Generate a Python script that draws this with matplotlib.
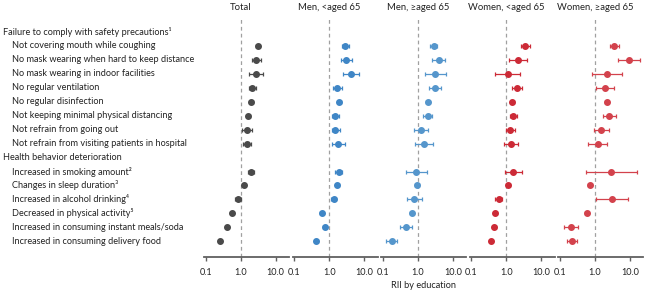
import numpy as np
import matplotlib
matplotlib.use('Agg')
import matplotlib.pyplot as plt
import matplotlib.transforms as mtransforms

plt.rcParams['font.family'] = ['Lato', 'DejaVu Sans']

# row labels (headers have no data)
rows = ['Failure to comply with safety precautions¹',
        'Not covering mouth while coughing',
        'No mask wearing when hard to keep distance',
        'No mask wearing in indoor facilities',
        'No regular ventilation',
        'No regular disinfection',
        'Not keeping minimal physical distancing',
        'Not refrain from going out',
        'Not refrain from visiting patients in hospital',
        'Health behavior deterioration',
        'Increased in smoking amount²',
        'Changes in sleep duration³',
        'Increased in alcohol drinking⁴',
        'Decreased in physical activity⁵',
        'Increased in consuming instant meals/soda',
        'Increased in consuming delivery food']
headers = [0, 9]
data_rows = [1, 2, 3, 4, 5, 6, 7, 8, 10, 11, 12, 13, 14, 15]

panels = ['Total', 'Men, <aged 65', 'Men, \u2265aged 65', 'Women, <aged 65', 'Women, \u2265aged 65']
colors = ['#4a4a4a', '#3f86c6', '#5596cc', '#cc2a36', '#d3424c']

# RII estimates and 95% CI, one list per panel (order of data_rows)
total_rii = [3.06, 2.79, 2.79, 2.15, 2.01, 1.65, 1.51, 1.48, 1.93, 1.22, 0.84, 0.56, 0.41, 0.26]
total_lo = [2.80, 2.06, 1.76, 1.76, 1.85, 1.52, 1.11, 1.19, 1.60, 1.14, 0.69, 0.52, 0.38, 0.24]
total_hi = [3.35, 3.80, 4.40, 2.68, 2.18, 1.80, 2.06, 1.93, 2.35, 1.31, 1.00, 0.60, 0.44, 0.28]

men_young_rii = [2.87, 3.06, 4.07, 1.69, 1.93, 1.48, 1.48, 1.77, 1.85, 1.69, 1.33, 0.60, 0.74, 0.43]
men_young_lo = [2.30, 2.10, 2.40, 1.27, 1.75, 1.22, 1.19, 1.19, 1.48, 1.55, 1.12, 0.55, 0.68, 0.40]
men_young_hi = [3.56, 4.50, 7.20, 2.30, 2.12, 1.85, 1.97, 2.74, 2.30, 1.85, 1.58, 0.66, 0.80, 0.47]

men_old_rii = [2.87, 3.89, 3.12, 3.12, 1.89, 1.89, 1.19, 1.51, 0.91, 0.94, 0.77, 0.66, 0.45, 0.18]
men_old_lo = [2.29, 2.56, 1.55, 2.06, 1.70, 1.39, 0.78, 0.84, 0.45, 0.84, 0.48, 0.60, 0.30, 0.12]
men_old_hi = [3.63, 6.15, 6.40, 4.60, 2.10, 2.60, 1.93, 2.74, 1.81, 1.05, 1.33, 0.72, 0.69, 0.26]

women_young_rii = [3.49, 2.20, 1.10, 1.98, 1.48, 1.58, 1.30, 1.36, 1.58, 1.12, 0.61, 0.48, 0.45, 0.36]
women_young_lo = [2.63, 1.22, 0.48, 1.43, 1.35, 1.27, 0.96, 0.86, 0.88, 1.02, 0.48, 0.44, 0.41, 0.33]
women_young_hi = [4.66, 3.98, 2.41, 2.81, 1.62, 2.06, 1.81, 2.16, 2.81, 1.23, 0.75, 0.52, 0.49, 0.39]

women_old_rii = [3.56, 9.36, 2.20, 1.97, 2.15, 2.57, 1.51, 1.19, 2.87, 0.72, 2.99, 0.58, 0.21, 0.22]
women_old_lo = [2.68, 4.54, 0.84, 1.09, 1.90, 1.73, 0.92, 0.64, 0.55, 0.64, 1.05, 0.53, 0.13, 0.16]
women_old_hi = [4.95, 19.7, 6.03, 3.56, 2.42, 3.90, 2.46, 2.25, 15.5, 0.80, 8.95, 0.64, 0.33, 0.31]

rii = [total_rii, men_young_rii, men_old_rii, women_young_rii, women_old_rii]
lo = [total_lo, men_young_lo, men_old_lo, women_young_lo, women_old_lo]
hi = [total_hi, men_young_hi, men_old_hi, women_young_hi, women_old_hi]

fig = plt.figure(figsize=(6.48, 2.95), dpi=100)

left, bottom, width, height = 0.315, 0.130, 0.131, 0.809
step = 0.1367
axes = []
for k in range(5):
    ax = fig.add_axes([left + k * step, bottom, width, height])
    axes.append(ax)
    v = np.array(rii[k])
    l = np.array(lo[k])
    h = np.array(hi[k])
    ax.axvline(1.0, color='#a0a0a0', linestyle=(0, (3, 2.5)), linewidth=0.9, zorder=1)
    ax.errorbar(v, data_rows, xerr=[v - l, h - v], fmt='o', color=colors[k],
                markersize=4, elinewidth=0.9, capsize=1.6, capthick=0.9, zorder=3)
    ax.set_xscale('log')
    ax.set_xlim(0.09, 24)
    ax.set_ylim(16.1, -1)
    ax.set_xticks([0.1, 1, 10])
    ax.set_xticklabels(['0.1', '1.0', '10.0'])
    ax.xaxis.set_minor_locator(matplotlib.ticker.NullLocator())
    ax.set_yticks([])
    for s in ['left', 'right', 'top']:
        ax.spines[s].set_visible(False)
    ax.spines['bottom'].set_color('#606060')
    ax.spines['bottom'].set_linewidth(1.3)
    ax.tick_params(axis='x', direction='out', length=3, width=1, color='#606060',
                   labelsize=6.6, pad=5, labelcolor='#222222')
    ax.patch.set_alpha(0)
    ax.text(1.0, 0.99, panels[k], transform=mtransforms.blended_transform_factory(ax.transData, fig.transFigure),
            ha='center', va='top', fontsize=6.8, color='#222222')

axes[2].set_xlabel('RII by education', fontsize=6.6, color='#222222', labelpad=3)

trans = mtransforms.blended_transform_factory(fig.transFigure, axes[0].transData)
for i, lab in enumerate(rows):
    x = 0.005 if i in headers else 0.018
    fig.text(x, i, lab, transform=trans, ha='left', va='center', fontsize=6.6, color='#222222')

fig.savefig('out.png', dpi=100)
